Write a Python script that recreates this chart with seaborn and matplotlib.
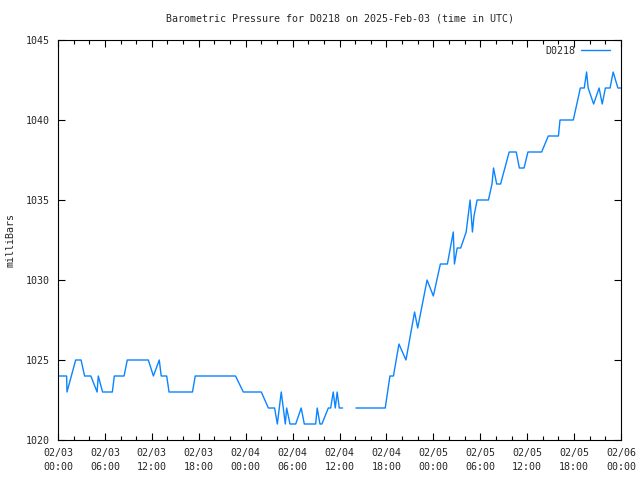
import matplotlib
matplotlib.use("Agg")
import matplotlib.pyplot as plt
import seaborn as sns
import pandas as pd
import numpy as np
from matplotlib.lines import Line2D

# segment 1 (before the data gap)
hours_a = [0.0, 1.1, 1.15, 2.26, 2.95, 3.4, 4.2, 5.0, 5.15, 5.7, 6.95, 7.2, 8.45, 8.86,
           11.55, 12.2, 12.95, 13.2, 13.9, 14.2, 17.2, 17.55, 22.7, 23.7, 26.0, 26.9,
           27.7, 28.05, 28.55, 29.07, 29.24, 29.67, 30.4, 31.1, 31.5, 32.95, 33.15,
           33.5, 33.75, 34.57, 34.87, 35.2, 35.46, 35.7, 35.97, 36.4]
press_a = [1024, 1024, 1023, 1025, 1025, 1024, 1024, 1023, 1024, 1023, 1023, 1024, 1024, 1025,
           1025, 1024, 1025, 1024, 1024, 1023, 1023, 1024, 1024, 1023, 1023, 1022,
           1022, 1021, 1023, 1021, 1022, 1021, 1021, 1022, 1021, 1021, 1022,
           1021, 1021, 1022, 1022, 1023, 1022, 1023, 1022, 1022]
# segment 2 (after the gap)
hours_b = [38.1, 41.85, 42.45, 42.9, 43.6, 44.5, 45.6, 46.0, 47.2, 48.0, 48.9, 49.8,
           50.55, 50.7, 51.05, 51.5, 52.2, 52.7, 53.0, 53.2, 53.6, 55.05, 55.5, 55.7,
           56.1, 56.6, 57.7, 58.6, 59.0, 59.6, 60.1, 61.85, 62.7, 64.0, 64.2, 65.9,
           66.8, 67.3, 67.6, 67.8, 68.5, 69.2, 69.6, 70.0, 70.6, 71.0, 71.6, 72.0]
press_b = [1022, 1022, 1024, 1024, 1026, 1025, 1028, 1027, 1030, 1029, 1031, 1031,
           1033, 1031, 1032, 1032, 1033, 1035, 1033, 1034, 1035, 1035, 1036, 1037,
           1036, 1036, 1038, 1038, 1037, 1037, 1038, 1038, 1039, 1039, 1040, 1040,
           1042, 1042, 1043, 1042, 1041, 1042, 1041, 1042, 1042, 1043, 1042, 1042]

xtick_hours = [0, 6, 12, 18, 24, 30, 36, 42, 48, 54, 60, 66, 72]
xtick_labels = ["02/03\n00:00", "02/03\n06:00", "02/03\n12:00", "02/03\n18:00",
                "02/04\n00:00", "02/04\n06:00", "02/04\n12:00", "02/04\n18:00",
                "02/05\n00:00", "02/05\n06:00", "02/05\n12:00", "02/05\n18:00",
                "02/06\n00:00"]
yticks = [1020, 1025, 1030, 1035, 1040, 1045]
series_name = "D0218"
title = "Barometric Pressure for D0218 on 2025-Feb-03 (time in UTC)"

df = pd.DataFrame({
    "hour": hours_a + hours_b,
    "pressure": press_a + press_b,
    "seg": [0] * len(hours_a) + [1] * len(hours_b),
})

sns.set_style("ticks")
plt.rcParams["font.family"] = ["DejaVu Sans Mono"]
FS = 7.2
color = "#0a84ff"

fig = plt.figure(figsize=(6.4, 4.8), dpi=100)
ax = fig.add_axes([58 / 640, 40 / 480, (621 - 58) / 640, (440 - 40) / 480])
sns.lineplot(data=df, x="hour", y="pressure", units="seg", estimator=None,
             color=color, linewidth=1.0, ax=ax, legend=False)

ax.set_xlim(0, 72)
ax.set_ylim(1020, 1045)
ax.set_xticks(xtick_hours)
ax.set_xticklabels(xtick_labels, fontsize=FS, linespacing=1.5)
ax.set_xticks(np.arange(0, 73, 2), minor=True)
ax.set_yticks(yticks)
ax.set_yticklabels([str(v) for v in yticks], fontsize=FS)
ax.tick_params(axis="both", which="both", direction="in", top=True, right=True,
               width=0.8, color="black")
ax.tick_params(axis="both", which="major", length=5, pad=6)
ax.tick_params(axis="x", which="minor", length=3)
ax.set_xlabel("")
ax.set_ylabel("milliBars", fontsize=FS)
ax.yaxis.set_label_coords((16 - 58) / 563, 0.5)
for s in ax.spines.values():
    s.set_linewidth(0.8)
    s.set_color("black")
ax.set_title(title, fontsize=FS, pad=13)

h = Line2D([], [], color=color, linewidth=1.0)
ax.legend([h], [series_name], loc="upper right", bbox_to_anchor=(0.9876, 0.995),
          frameon=False, markerfirst=False, fontsize=FS, handlelength=2.9,
          borderaxespad=0.0, handletextpad=0.6)

fig.savefig("out.png", dpi=100)
